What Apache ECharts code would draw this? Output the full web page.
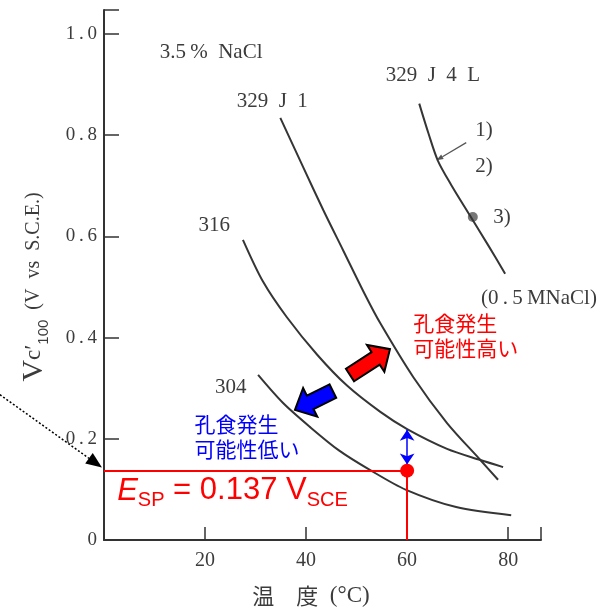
<!DOCTYPE html>
<html>
<head>
<meta charset="utf-8">
<script src="https://cdn.jsdelivr.net/npm/echarts@6/dist/echarts.min.js"></script>
<style>
  html, body { margin: 0; padding: 0; background: #fff; }
  #chart { width: 612px; height: 609px; }
</style>
</head>
<body>
<div id="chart"></div>
<script>
// 曲線データ（温度 °C, 電位 V vs SCE）
const temp329J1 = [34.9, 39.4, 43.4, 47.3, 51.7, 54.7, 61.2, 67.9, 74.5, 78.0];
const v329J1    = [0.834, 0.737, 0.652, 0.573, 0.484, 0.428, 0.322, 0.231, 0.158, 0.119];
const temp316   = [27.5, 31.5, 36.2, 42.2, 48.1, 54.7, 60.0, 67.9, 74.5, 79.0];
const v316      = [0.593, 0.510, 0.440, 0.366, 0.305, 0.253, 0.219, 0.180, 0.158, 0.144];
const temp304   = [30.5, 35.4, 40.8, 46.5, 52.7, 59.8, 69.7, 80.6];
const v304      = [0.326, 0.271, 0.223, 0.177, 0.138, 0.099, 0.065, 0.049];
const temp329J4L = [62.4, 64.2, 66.1, 68.7, 72.5, 76.0, 79.4];
const v329J4L    = [0.862, 0.804, 0.749, 0.702, 0.640, 0.583, 0.526];
const point3 = [73.0, 0.638];

const esp = 0.137;          // 孔食電位
const espTemp = 60;         // 温度
const v316At60 = 0.218;

const xTicks = [20, 40, 60, 80];
const yTicks = [0, 0.2, 0.4, 0.6, 0.8, 1.0];

const serif = '"Liberation Serif", "DejaVu Serif", serif';
const sans = '"Liberation Sans", Arial, sans-serif';
const jp = '"Noto Sans CJK JP", sans-serif';
const grey = '#3c3c3c';
const lineGrey = '#353535';
const en = '\u2002', th = '\u2009';

function pairs(xs, ys) { return xs.map((x, i) => [x, ys[i]]); }

let myChart = echarts.init(document.getElementById('chart'));

function curve(name, xs, ys) {
  return {
    name: name, type: 'line', smooth: 0.3, showSymbol: false, silent: true,
    data: pairs(xs, ys),
    lineStyle: { color: lineGrey, width: 2 }
  };
}

myChart.setOption({
  animation: false,
  backgroundColor: '#fff',
  grid: { left: 104, right: 71, top: 10, bottom: 69 },
  xAxis: {
    type: 'value', min: 0, max: 86.5, interval: 20,
    axisLine: { lineStyle: { color: '#333', width: 2 } },
    axisTick: { inside: true, length: 13, lineStyle: { color: '#333', width: 1.5 } },
    axisLabel: {
      margin: 11, color: grey, fontFamily: serif, fontSize: 20,
      formatter: v => xTicks.indexOf(v) >= 0 ? String(v) : ''
    },
    splitLine: { show: false }
  },
  yAxis: {
    type: 'value', min: 0, max: 1.047, interval: 0.2,
    axisLine: { show: true, lineStyle: { color: '#333', width: 2 } },
    axisTick: { show: true, inside: true, length: 15, lineStyle: { color: '#333', width: 1.5 } },
    axisLabel: {
      margin: 7, color: grey, fontFamily: serif, fontSize: 19,
      formatter: v => {
        const t = yTicks.find(k => Math.abs(k - v) < 1e-6);
        if (t === undefined) return '';
        return t === 0 ? '0' : t.toFixed(1).replace('.', th + '.' + th);
      }
    },
    splitLine: { show: false }
  },
  series: [
    curve('329J1', temp329J1, v329J1),
    curve('316', temp316, v316),
    curve('304', temp304, v304),
    curve('329J4L', temp329J4L, v329J4L),
    {
      type: 'scatter', data: [point3], symbolSize: 10, silent: true,
      itemStyle: { color: '#555' }
    },
    {
      // 赤線・青矢印
      type: 'line', data: [], silent: true,
      markLine: {
        silent: true, animation: false, label: { show: false },
        data: [
          [{ coord: [0, esp], symbol: 'none' }, { coord: [espTemp, esp], symbol: 'none',
            lineStyle: { color: '#ff0000', width: 2, type: 'solid' } }],
          [{ coord: [espTemp, esp], symbol: 'none' }, { coord: [espTemp, 0], symbol: 'none',
            lineStyle: { color: '#ff0000', width: 2, type: 'solid' } }],
          [{ coord: [espTemp, esp + 0.012], symbol: 'arrow', symbolSize: 11 },
           { coord: [espTemp, v316At60], symbol: 'arrow', symbolSize: 11,
            lineStyle: { color: '#0000ff', width: 1.5, type: 'solid' } }]
        ]
      },
      markPoint: {
        silent: true, animation: false,
        data: [{ coord: [espTemp, esp], symbol: 'circle', symbolSize: 14,
          itemStyle: { color: '#ff0000' }, label: { show: false } }]
      }
    }
  ]
});

function px(p) { return myChart.convertToPixel({ gridIndex: 0 }, p); }

function blockArrow(tailD, tipD, shaftW, headW, headL, color) {
  const a = px(tailD), b = px(tipD);
  const dx = b[0] - a[0], dy = b[1] - a[1];
  const L = Math.hypot(dx, dy);
  const ux = dx / L, uy = dy / L, nx = -uy, ny = ux;
  const hb = [b[0] - ux * headL, b[1] - uy * headL];
  const P = (base, s) => [base[0] + nx * s, base[1] + ny * s];
  return {
    type: 'polygon',
    shape: { points: [P(a, shaftW / 2), P(hb, shaftW / 2), P(hb, headW / 2), b,
                      P(hb, -headW / 2), P(hb, -shaftW / 2), P(a, -shaftW / 2)] },
    style: { fill: color, stroke: '#000', lineWidth: 2, lineJoin: 'miter' }
  };
}

function arrowLine(fromD, toD, color, width, dash, headL, headW) {
  const a = px(fromD), b = px(toD);
  const dx = b[0] - a[0], dy = b[1] - a[1];
  const L = Math.hypot(dx, dy);
  const ux = dx / L, uy = dy / L, nx = -uy, ny = ux;
  const hb = [b[0] - ux * headL, b[1] - uy * headL];
  return [
    { type: 'line', shape: { x1: a[0], y1: a[1], x2: hb[0], y2: hb[1] },
      style: { stroke: color, lineWidth: width, lineDash: dash } },
    { type: 'polygon', shape: { points: [b, [hb[0] + nx * headW / 2, hb[1] + ny * headW / 2],
                                          [hb[0] - nx * headW / 2, hb[1] - ny * headW / 2]] },
      style: { fill: color } }
  ];
}

function txt(d, text, size, color, family, align, extra) {
  const p = px(d);
  return Object.assign({
    type: 'text', x: p[0], y: p[1],
    style: Object.assign({ text: text, fontSize: size, fontFamily: family, fill: color,
      align: align || 'center', verticalAlign: 'middle' }, extra && extra.style)
  }, extra && extra.el);
}

const g = [];
g.push(txt([21.2, 0.964], '3.5' + th + '%' + en + 'NaCl', 21, grey, serif));
g.push(txt([33.3, 0.866], '329' + en + 'J' + en + '1', 21, grey, serif));
g.push(txt([21.8, 0.621], '316', 21, grey, serif));
g.push(txt([25.1, 0.302], '304', 21, grey, serif));
g.push(txt([65.1, 0.917], '329' + en + 'J' + en + '4' + en + 'L', 21, grey, serif));
g.push(txt([75.2, 0.808], '1)', 21, grey, serif));
g.push(txt([75.2, 0.737], '2)', 21, grey, serif));
g.push(txt([78.8, 0.638], '3)', 21, grey, serif));
g.push(txt([86.1, 0.478], '(0' + th + '.' + th + '5' + th + 'MNaCl)', 21, grey, serif));
arrowLine([71.7, 0.785], [65.8, 0.750], '#555', 1.2, null, 7, 5).forEach(e => g.push(e));

g.push(txt([61.2, 0.403], '孔食発生\n可能性高い', 21, '#ff0000', jp, 'left',
  { style: { lineHeight: 25 } }));
g.push(txt([17.9, 0.204], '孔食発生\n可能性低い', 21, '#0000ff', jp, 'left',
  { style: { lineHeight: 25 } }));

g.push(blockArrow([48.7, 0.326], [56.6, 0.377], 15, 32, 17, '#ff0000'));
g.push(blockArrow([45.3, 0.294], [37.8, 0.257], 15, 32, 17, '#0000ff'));

g.push(txt([2.6, 0.097], '{i|E}{s|SP}{n| = 0.137 V}{s|SCE}', 31, '#ff0000', sans, 'left', {
  style: { rich: {
    i: { fontSize: 31, fontStyle: 'italic', fontFamily: sans, fill: '#ff0000', lineHeight: 40, verticalAlign: 'middle' },
    n: { fontSize: 31, fontFamily: sans, fill: '#ff0000', lineHeight: 40, verticalAlign: 'middle' },
    s: { fontSize: 20, fontFamily: sans, fill: '#ff0000', lineHeight: 20, verticalAlign: 'bottom' }
  } }
}));

// 点線矢印（グラフ外から）
arrowLine([-20.6, 0.287], [-0.4, 0.143], '#000', 1.5, [2, 2], 16, 13).forEach(e => g.push(e));

// 軸タイトル
g.push({
  type: 'text', x: 34, y: 287, rotation: Math.PI / 2,
  style: {
    text: '{v|V}{c|c′}{s|100}{t|' + en + '(V' + en + 'vs' + en + 'S.C.E.)}', align: 'center', verticalAlign: 'middle',
    rich: {
      v: { fontSize: 30, fontFamily: serif, fill: grey, lineHeight: 34, verticalAlign: 'middle' },
      c: { fontSize: 23, fontFamily: serif, fill: grey, lineHeight: 34, verticalAlign: 'middle' },
      s: { fontSize: 15, fontFamily: sans, fill: grey, lineHeight: 15, verticalAlign: 'bottom' },
      t: { fontSize: 20, fontFamily: serif, fill: grey, lineHeight: 34, verticalAlign: 'middle' }
    }
  }
});
g.push({
  type: 'text', x: 311, y: 596,
  style: {
    text: '{a|温　度}{b|' + en + '(°C)}', align: 'center', verticalAlign: 'middle',
    rich: {
      a: { fontSize: 22, fontFamily: jp, fill: grey },
      b: { fontSize: 23, fontFamily: serif, fill: grey }
    }
  }
});

myChart.setOption({ graphic: g });
</script>
</body>
</html>
